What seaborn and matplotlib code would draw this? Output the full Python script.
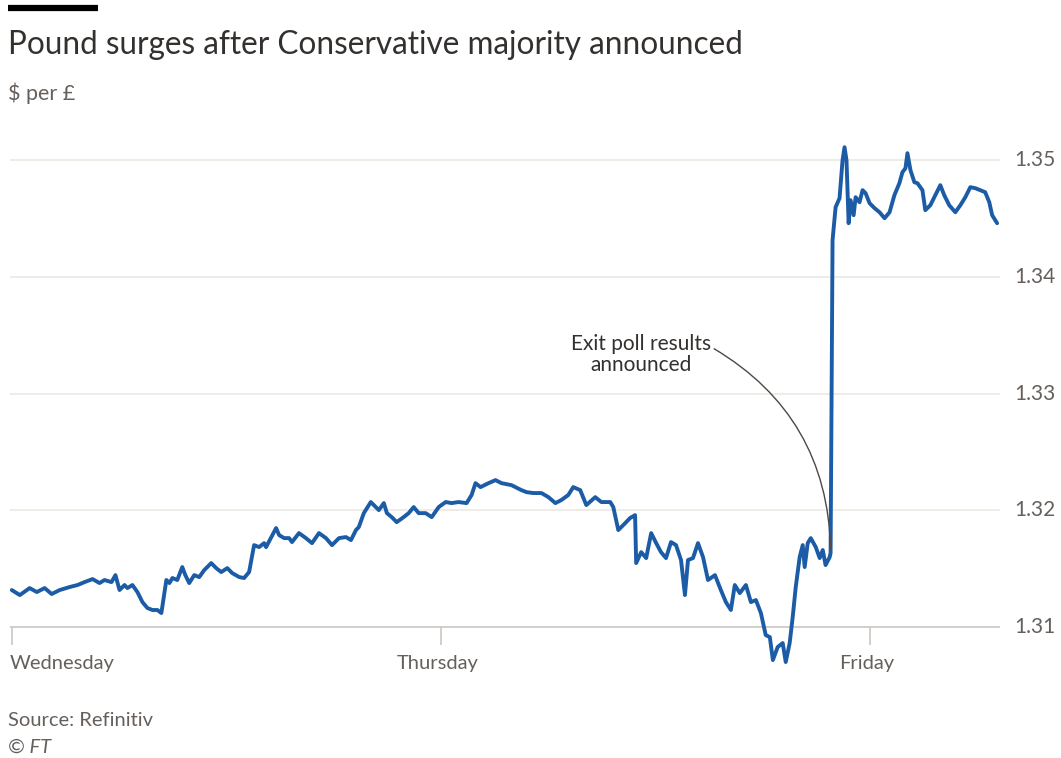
import matplotlib
matplotlib.use("Agg")
import matplotlib.pyplot as plt
import seaborn as sns
import pandas as pd

# hours since Wednesday 00:00
hours = [0, 0.45, 1.00, 1.40, 1.84, 2.23, 2.68, 3.24, 3.68, 4.07, 4.52, 4.91, 5.19, 5.58, 5.80,
         6.03, 6.31, 6.47, 6.75, 7.03, 7.31, 7.59, 7.87, 8.15, 8.37, 8.54, 8.65, 8.82, 8.99,
         9.26, 9.54, 9.71, 9.93, 10.21, 10.49, 10.77, 11.16, 11.44, 11.72, 12.06, 12.33, 12.73,
         13.00, 13.28, 13.56, 13.84, 14.12,
         14.23, 14.79, 14.96, 15.24, 15.52, 15.68, 16.07, 16.46, 16.80, 17.19, 17.58, 17.92,
         18.31, 18.70, 18.98, 19.26, 19.42, 19.70, 20.09, 20.37, 20.54, 20.82, 20.99, 21.26,
         21.54, 21.93, 22.21, 22.49, 22.77, 23.16, 23.50, 23.89, 24.28, 24.61, 25.00, 25.45,
         25.73, 25.95, 26.23, 26.68, 27.07, 27.40, 27.96, 28.52, 28.80,
         29.19, 29.64, 30.03, 30.42, 30.75, 31.14, 31.42, 31.81, 32.15, 32.65, 32.99, 33.49,
         33.66, 33.94, 34.33, 34.60, 34.88, 34.94, 35.22, 35.50, 35.78, 36.06, 36.33, 36.61,
         36.89, 37.17, 37.45, 37.67, 37.84, 38.12, 38.40, 38.68, 38.96, 39.35, 39.68, 39.96,
         40.24, 40.46, 40.74, 41.08, 41.36, 41.64, 41.92, 42.19, 42.42, 42.59, 42.86, 43.14,
         43.31, 43.53, 43.70, 43.87, 44.09, 44.26, 44.37, 44.54, 44.71, 44.99, 45.21, 45.38,
         45.54, 45.77, 45.82,
         45.93, 46.10, 46.32, 46.49, 46.60, 46.71, 46.83, 46.94, 47.11, 47.22, 47.44, 47.61,
         47.78, 48.00, 48.28, 48.56, 48.84, 49.12, 49.39, 49.67, 49.84, 50.01, 50.12, 50.29,
         50.51, 50.68, 50.96, 51.12, 51.40, 51.68, 51.96, 52.18, 52.46, 52.80, 53.08, 53.36,
         53.64, 53.92, 54.19, 54.47, 54.70, 54.86, 55.14]
usd_per_gbp = [1.31317, 1.31274, 1.31334, 1.31300, 1.31334, 1.31283, 1.31317, 1.31343, 1.31360,
               1.31385, 1.31411, 1.31377, 1.31403, 1.31385, 1.31445, 1.31317, 1.31360, 1.31334,
               1.31360, 1.31300, 1.31214, 1.31163, 1.31146, 1.31146, 1.31120, 1.31291, 1.31403,
               1.31377, 1.31420, 1.31403, 1.31514, 1.31445, 1.31377, 1.31445, 1.31428, 1.31488,
               1.31548, 1.31505, 1.31471, 1.31505, 1.31463, 1.31428, 1.31420, 1.31471, 1.31702,
               1.31685, 1.31719,
               1.31685, 1.31848, 1.31788, 1.31762, 1.31762, 1.31728, 1.31805, 1.31762, 1.31719,
               1.31805, 1.31762, 1.31702, 1.31762, 1.31771, 1.31745, 1.31831, 1.31857, 1.31976,
               1.32071, 1.32028, 1.32002, 1.32062, 1.31976, 1.31942, 1.31899, 1.31942, 1.31976,
               1.32028, 1.31976, 1.31976, 1.31942, 1.32028, 1.32071, 1.32062, 1.32071, 1.32062,
               1.32131, 1.32233, 1.32199, 1.32233, 1.32259, 1.32233, 1.32216, 1.32173, 1.32156,
               1.32148, 1.32148, 1.32113, 1.32062, 1.32088, 1.32131, 1.32199, 1.32173, 1.32045,
               1.32113, 1.32071, 1.32071, 1.32028, 1.31831, 1.31891, 1.31934, 1.31959, 1.31548,
               1.31642, 1.31591, 1.31805, 1.31719, 1.31642, 1.31591, 1.31728, 1.31702, 1.31574,
               1.31274, 1.31574, 1.31591, 1.31719, 1.31600, 1.31403, 1.31445, 1.31317, 1.31214,
               1.31146, 1.31360, 1.31291, 1.31360, 1.31214, 1.31231, 1.31120, 1.30931, 1.30914,
               1.30717, 1.30829, 1.30863, 1.30700, 1.30863, 1.31086, 1.31343, 1.31600, 1.31702,
               1.31514, 1.31719, 1.31762, 1.31685, 1.31591, 1.31660, 1.31531, 1.31600, 1.31634,
               1.34315, 1.34597, 1.34674, 1.35000, 1.35111, 1.35000, 1.34460, 1.34657, 1.34529,
               1.34683, 1.34640, 1.34743, 1.34717, 1.34632, 1.34589, 1.34554, 1.34503, 1.34554,
               1.34700, 1.34803, 1.34897, 1.34931, 1.35060, 1.34914, 1.34811, 1.34803, 1.34743,
               1.34572, 1.34614, 1.34700, 1.34786, 1.34700, 1.34614, 1.34554, 1.34614, 1.34683,
               1.34769, 1.34760, 1.34743, 1.34726, 1.34640, 1.34529, 1.34460]

day_labels = ["Wednesday", "Thursday", "Friday"]
day_hours = [0, 24, 48]
y_ticks = [1.31, 1.32, 1.33, 1.34, 1.35]
y_tick_labels = ["1.31", "1.32", "1.33", "1.34", "1.35"]

sns.set_theme(style="white")
plt.rcParams["font.family"] = ["Lato", "DejaVu Sans"]

df = pd.DataFrame({"hours": hours, "rate": usd_per_gbp})

fig = plt.figure(figsize=(10.61, 7.58), dpi=100)
fig.patch.set_facecolor("white")
ax = fig.add_axes([10 / 1061, 1 - 670 / 758, 990 / 1061, 530 / 758])
ax.set_facecolor("white")

grey_text = "#66605c"

for v in y_ticks:
    ax.axhline(v, color="#ccc6c0" if v == y_ticks[0] else "#ece8e3", lw=1.2, zorder=0)
ax.vlines(day_hours, 1.3085, 1.31, color="#ccc6c0", lw=1.2, zorder=0)

sns.lineplot(data=df, x="hours", y="rate", ax=ax, color="#1c5ca6", lw=2.8, zorder=3)

ax.set_xlim(-0.1, 55.3)
ax.set_ylim(1.30632, 1.35173)
ax.set_xticks([])
ax.set_yticks([])
ax.set_xlabel("")
ax.set_ylabel("")
for s in ax.spines.values():
    s.set_visible(False)

for h, lab in zip(day_hours, day_labels):
    ax.text(h - (0.1 if h == 0 else 0.15), 1.3069, lab, ha="left" if h == 0 else "center",
            va="center", fontsize=14.5, color=grey_text)
for v, lab in zip(y_ticks, y_tick_labels):
    ax.text(56.1, v, lab, ha="left", va="center", fontsize=15, color=grey_text,
            clip_on=False)

ax.annotate("Exit poll results\nannounced", xy=(45.82, 1.3167), xytext=(35.2, 1.33338),
            ha="center", va="center", fontsize=15, color="#33302e", linespacing=1.05,
            arrowprops=dict(arrowstyle="-", color="#4d4845", lw=1.0,
                            connectionstyle="arc3,rad=-0.28",
                            shrinkA=0, shrinkB=0,
                            relpos=(1.0, 0.68)))

# header and footer
fig.add_artist(plt.Line2D([8 / 1061, 98 / 1061], [1 - 8 / 758, 1 - 8 / 758],
                          color="black", lw=4.5, solid_capstyle="butt"))
fig.text(8 / 1061, 1 - 45 / 758, "Pound surges after Conservative majority announced",
         fontsize=22.7, color="#33302e", va="center", ha="left")
fig.text(8 / 1061, 1 - 93 / 758, "$ per £", fontsize=15.5, color=grey_text,
         va="center", ha="left")
fig.text(8 / 1061, 1 - 720 / 758, "Source: Refinitiv", fontsize=14.5, color=grey_text,
         va="center", ha="left")
fig.text(8 / 1061, 1 - 747 / 758, "© FT", fontsize=14.5, color=grey_text,
         va="center", ha="left", style="italic")

fig.savefig("out.png", dpi=100, facecolor="white")
